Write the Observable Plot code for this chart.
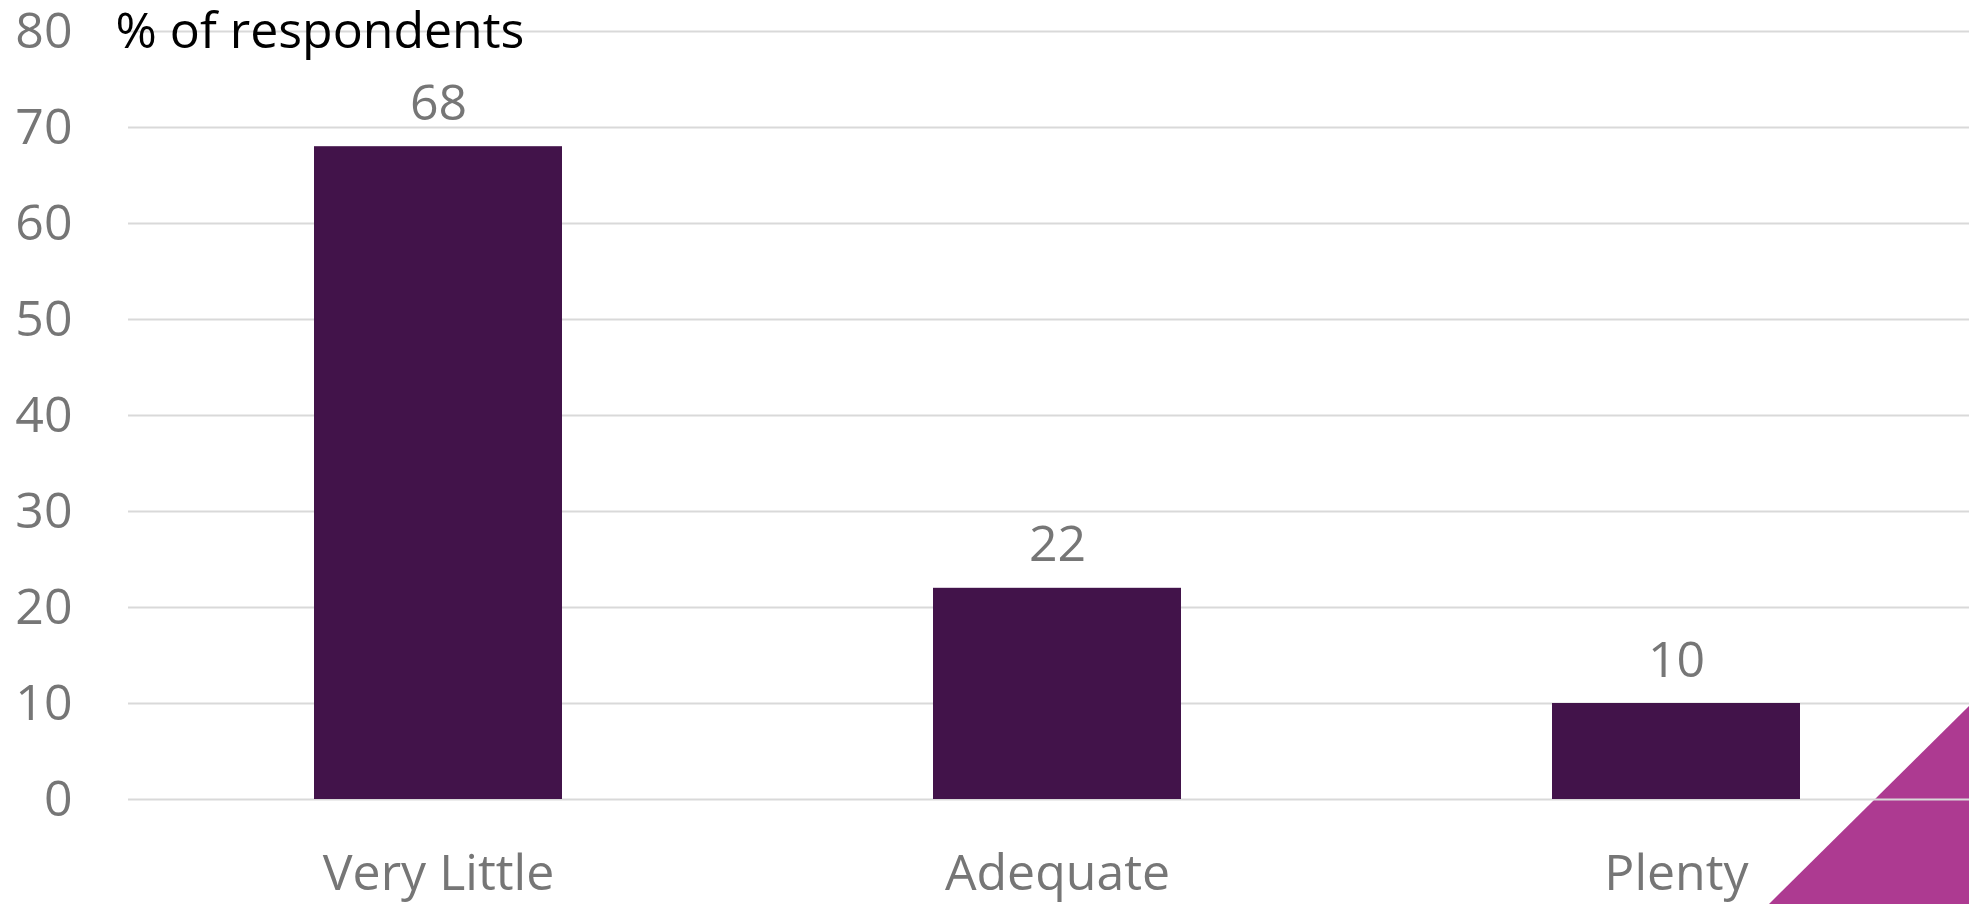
<!DOCTYPE html>
<html>
<head>
<meta charset="utf-8">
<script src="https://cdn.jsdelivr.net/npm/d3@7"></script>
<script src="https://cdn.jsdelivr.net/npm/@observablehq/plot@0.6"></script>
<style>
  html, body { margin: 0; padding: 0; background: #ffffff; }
  #wrap { position: relative; width: 1969px; height: 904px; overflow: hidden; }
  #corner { position: absolute; right: 0; bottom: 0; width: 200px; height: 198px;
            background: #ad3a91; clip-path: polygon(100% 0, 100% 100%, 0 100%); }
  #chart { position: absolute; left: 0; top: 0; }
</style>
</head>
<body>
<div id="wrap"><div id="corner"></div><div id="chart"></div></div>
<script>
const categories = ["Very Little", "Adequate", "Plenty"];
const values = [68, 22, 10];
const yTicks = [0, 10, 20, 30, 40, 50, 60, 70, 80];
const title = "% of respondents";

const data = categories.map((c, i) => ({category: c, value: values[i]}));

const font = "'Open Sans', sans-serif";
const plot = Plot.plot({
  width: 1969,
  height: 904,
  marginTop: 31,
  marginBottom: 105,
  marginLeft: 128,
  marginRight: 0,
  style: {background: "transparent", fontFamily: font, fontSize: "50px", color: "#767676"},
  x: {domain: categories, range: [128, 1986], paddingInner: 0.6, paddingOuter: 0.3, label: null},
  y: {domain: [0, 80], ticks: yTicks, label: null},
  marks: [
    Plot.ruleY(yTicks, {stroke: "#d9d9d9", strokeWidth: 2}),
    Plot.barY(data, {x: "category", y: "value", fill: "#42134a"}),
    Plot.text(data, {x: "category", y: "value", text: d => String(d.value), lineAnchor: "bottom", dy: -27, fill: "#767676", fontSize: 50}),
    Plot.axisY({ticks: yTicks, tickSize: 0, tickPadding: 56, fill: "#767676", fontSize: 50}),
    Plot.axisX({tickSize: 0, tickPadding: 55, fill: "#767676", fontSize: 50}),
    Plot.text([title], {frameAnchor: "top-left", dx: -13, dy: 0, lineAnchor: "middle", fill: "#000000", fontSize: 50, textAnchor: "start"})
  ]
});
document.getElementById("chart").appendChild(plot);
</script>
</body>
</html>
